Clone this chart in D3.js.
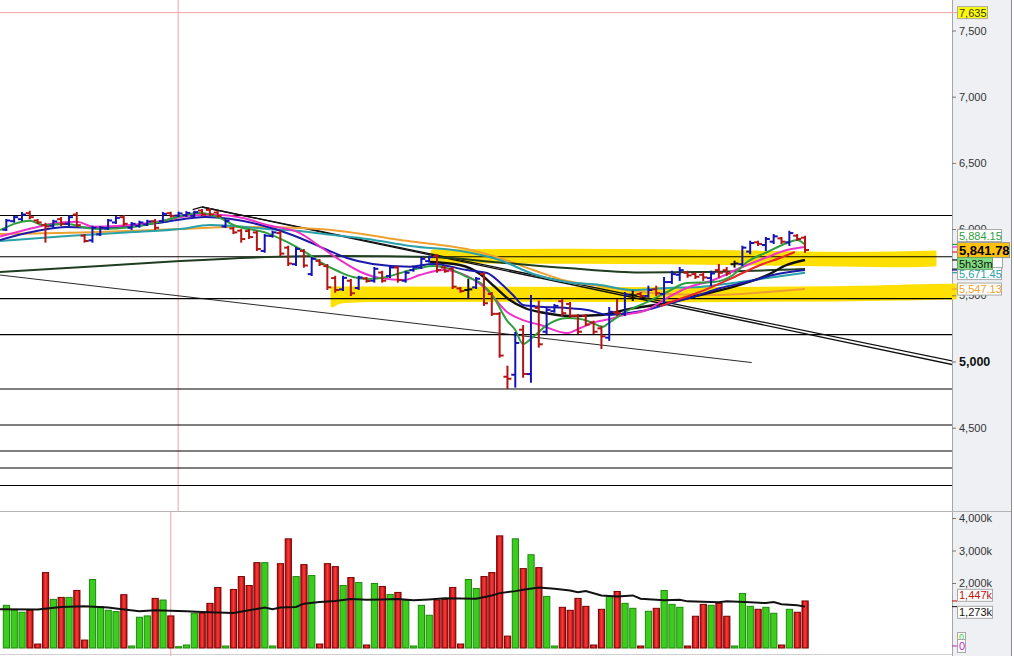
<!DOCTYPE html>
<html>
<head>
<meta charset="utf-8">
<script src="https://cdn.jsdelivr.net/npm/d3@7"></script>
<style>
  body { margin: 0; background: #fff; }
  svg { display: block; font-family: "Liberation Sans", Arial, sans-serif; }
</style>
</head>
<body>
<svg id="chart" width="1014" height="656"></svg>
<script>
// ---- data ----
// one entry per bar: [open, high, low, close]
const ohlc = [
  [5995,6069,5993,6065],[6060,6094,6056,6090],[6075,6122,6069,6110],[6120,6131,6082,6090],
  [6065,6069,6046,6050],[6030,6040,5905,6020],[6025,6063,6018,6058],[6075,6084,6031,6040],
  [6040,6099,6031,6090],[6110,6122,6023,6030],[5950,5955,5905,5910],[5915,6018,5905,6010],
  [5960,6016,5955,6010],[6005,6069,6001,6065],[6050,6091,6046,6085],[6090,6099,6031,6040],
  [6010,6046,6001,6040],[6025,6056,6018,6050],[6035,6063,6031,6058],[6060,6069,6001,6010],
  [6060,6122,6056,6115],[6120,6124,6094,6100],[6102,6124,6099,6118],[6105,6128,6099,6122],
  [6100,6131,6094,6128],[6140,6144,6106,6110],[6145,6152,6106,6112],[6125,6131,6094,6098],
  [6020,6069,6016,6062],[6005,6008,5970,5975],[5988,5993,5905,5925],[5985,5993,5933,5940],
  [5975,5980,5842,5850],[5835,5955,5829,5950],[5948,5980,5943,5975],[5970,5980,5804,5815],
  [5860,5867,5729,5740],[5735,5857,5729,5850],[5835,5842,5716,5725],[5660,5782,5653,5775],
  [5760,5767,5729,5735],[5720,5729,5548,5560],[5630,5640,5527,5540],[5545,5640,5540,5632],
  [5610,5616,5502,5515],[5555,5640,5548,5635],[5628,5631,5603,5608],[5610,5706,5603,5700],
  [5672,5678,5603,5610],[5645,5716,5638,5710],[5710,5716,5603,5615],[5610,5678,5603,5670],
  [5690,5716,5686,5712],[5710,5782,5706,5775],[5758,5792,5754,5788],[5795,5804,5678,5690],
  [5710,5716,5678,5682],[5700,5706,5555,5565],[5552,5555,5527,5532],[5540,5616,5480,5545],
  [5560,5631,5555,5625],[5660,5668,5427,5440],[5510,5517,5351,5360],[5360,5366,5036,5045],
  [4885,4961,4800,4870],[4900,5215,4810,5140],[5240,5268,4885,4906],[4905,5495,4847,5420],
  [5405,5452,5112,5130],[5225,5404,5215,5390],[5380,5427,5376,5420],[5455,5464,5351,5365],
  [5435,5442,5338,5345],[5345,5351,5215,5225],[5345,5351,5276,5280],[5295,5301,5215,5225],
  [5250,5263,5102,5190],[5180,5404,5163,5375],[5372,5464,5351,5365],[5360,5517,5351,5505],
  [5505,5527,5464,5500],[5510,5517,5487,5495],[5495,5565,5489,5540],[5545,5565,5502,5515],
  [5510,5631,5442,5600],[5600,5678,5593,5660],[5655,5706,5616,5690],[5670,5678,5640,5650],
  [5660,5668,5631,5640],[5655,5668,5616,5635],[5630,5678,5578,5665],[5690,5729,5640,5670],
  [5690,5706,5653,5665],[5735,5754,5716,5740],[5735,5867,5729,5860],[5830,5905,5817,5895],
  [5900,5905,5880,5888],[5880,5933,5842,5925],[5905,5955,5895,5945],[5930,5933,5895,5905],
  [5900,5980,5880,5970],[5950,5955,5918,5925],[5935,5943,5829,5842]
];
const neutralBars = [59, 80, 93];

// volume in thousands, and up (1) / down (0) per bar
const volume = [
  1313,1170,1100,1170,122,2320,1496,1557,1557,1771,244,2107,1273,1160,1120,1640,61,946,987,1527,
  1476,987,40,92,1069,1069,1374,1863,61,1802,2198,1924,2626,2626,61,2595,3359,2198,2565,2229,
  122,2595,2504,1924,2168,2015,92,1985,1893,1649,1710,1476,61,1313,1008,1476,1496,1863,122,2107,
  1832,2198,2320,3450,366,3359,2443,2870,2473,1588,61,1252,1160,1527,1282,92,1191,1588,1740,1374,
  1221,61,1130,1221,1771,1343,1252,61,977,1343,1313,1374,977,61,1680,1282,1191,1252,1069,92,
  1191,1100,1447
];
const volumeUp = [
  1,1,1,0,0,0,1,0,1,0,0,1,1,1,1,0,1,1,1,0,1,0,1,1,1,0,0,0,1,0,0,0,0,1,1,0,0,1,0,1,
  0,0,0,1,0,1,0,1,0,1,0,1,1,1,1,0,0,0,0,1,1,0,0,0,0,1,0,1,0,1,1,0,0,0,0,0,0,1,0,1,
  1,0,1,0,1,1,1,0,0,0,1,0,0,1,1,1,0,1,1,0,1,0,0
];
// volume moving average: [bar index, value k]
const volumeAvg = [
  [-1,1190],[4,1182],[7,1261],[10,1282],[13,1243],[14,1212],[17,1130],[19,1160],[23,1130],[25,1108],
  [29,1078],[31,1160],[33,1243],[34,1191],[35,1243],[37,1261],[38,1365],[40,1414],[42,1444],[44,1505],
  [46,1487],[48,1496],[50,1505],[52,1466],[54,1496],[56,1527],[60,1518],[62,1618],[63,1689],[65,1750],
  [66,1792],[68,1863],[70,1823],[72,1771],[73,1719],[74,1750],[76,1618],[78,1588],[80,1618],[81,1518],
  [84,1466],[86,1487],[87,1435],[91,1405],[92,1435],[95,1405],[97,1383],[98,1414],[99,1344],[101,1313],
  [102,1273]
];

// price moving averages: [bar index, price]
const maGreen = [[-0.8,5993],[3,6063],[4.7,6031],[7.8,6038],[10.3,6008],[12,6001],[16.2,6016],[19.6,6056],
  [24.7,6122],[27.3,6084],[29,6031],[33.3,5970],[35.9,5902],[38.4,5819],[40.1,5751],[42.6,5676],[44.3,5638],
  [46.1,5623],[48.6,5638],[50.3,5668],[52.8,5706],[54.5,5721],[56.7,5698],[58.8,5640],[60.9,5578],[62.2,5489],
  [63.9,5313],[65,5238],[66,5132],[67.3,5187],[69.1,5276],[71.6,5328],[73.3,5321],[74.9,5291],[76.1,5261],
  [77.1,5298],[78.8,5366],[81.8,5449],[84.4,5525],[86.9,5593],[90.3,5600],[92.8,5653],[94.6,5751],
  [97.2,5827],[99.7,5895],[101,5918],[102,5884]];
const maMagenta = [[-0.8,5943],[3.4,6008],[5.6,6038],[9,6056],[11.1,6018],[14.1,6023],[18.4,6048],
  [24.7,6106],[27.3,6106],[30.2,6084],[33.3,6031],[37.5,5970],[40.1,5867],[42.6,5767],[45.2,5678],
  [47.7,5631],[50.9,5616],[52.8,5653],[55.8,5691],[58.8,5646],[61.4,5540],[63.9,5376],[66,5313],
  [68.2,5276],[71.6,5215],[73.3,5253],[75.4,5301],[77.1,5321],[78.8,5351],[81.8,5389],[84.4,5480],
  [86.9,5555],[90.3,5616],[93.7,5706],[97.2,5789],[99.7,5842],[102,5865]];
const maBlue = [[-0.8,5918],[3.4,5980],[7.8,6016],[12,6008],[16.2,6023],[20.5,6056],[25.4,6091],
  [33.3,6018],[37.5,5933],[41,5842],[43.5,5782],[46.8,5737],[51.6,5716],[54.5,5737],[58.8,5691],
  [61.4,5668],[63.1,5593],[64.7,5502],[66,5427],[68.2,5414],[71.6,5404],[74.2,5389],[77.1,5351],
  [78.4,5359],[81.8,5389],[84.4,5434],[87.7,5487],[91.2,5555],[94.6,5600],[97.9,5653],[102,5691]];
const maTeal = [[-0.8,5910],[7.8,5948],[16.2,5978],[22.2,6001],[26,6031],[29,6023],[33.3,6001],
  [37.5,5986],[41.7,5955],[46.1,5925],[51.6,5872],[58.8,5827],[63,5767],[67.3,5661],[71.6,5600],
  [75.8,5578],[80,5540],[84.4,5555],[88.6,5563],[92.8,5593],[97.2,5631],[102,5671]];
const maOrange = [[-0.8,5963],[12,5978],[22.2,6001],[29,6016],[37.5,6008],[42.6,5986],[50.3,5918],
  [54.5,5887],[58.8,5850],[63,5782],[67.3,5691],[71.6,5608],[75.8,5570],[80,5532],[84.4,5510],
  [90.3,5502],[97.2,5525],[102,5547]];
const maDarkGreen = [[-0.8,5676],[12,5721],[22.2,5759],[33.3,5789],[42.6,5797],[54.5,5789],[63,5748],
  [71.6,5706],[80.9,5672],[88.6,5676],[102,5698]];
const maBlack = [[54.1,5751],[57.9,5729],[60.5,5661],[62.4,5563],[64.3,5464],[66.2,5404],[68.8,5366],
  [72,5344],[75.8,5351],[79.6,5397],[84.4,5442],[88.6,5502],[92.8,5563],[97.2,5653],[99.7,5729],[102,5767]];
const maRed = [[83.5,5419],[86,5472],[88.2,5517],[92.4,5623],[96.3,5729],[98.8,5782],[100.7,5827]];

// drawn objects: horizontal levels, trend lines [index, price], marker bands [index, top, bottom]
const levels = [6103, 5791, 5475, 5203, 4792, 4520, 4324, 4196, 4063];
const alertLevel = 7635;
const trendA = [[23.8,6148],[25,6167],[120.8,5004]];
const trendB = [[25,6167],[120.8,4977]];
const trendThin = [[-0.8,5653],[95.2,4992]];
const bandUpper = [[54.4,5835,5751],[73.3,5842,5751],[88.6,5835,5744],[105.2,5812,5729],[114.1,5819,5721],[118.6,5827,5729]];
const bandLower = [[41.6,5555,5419],[42.4,5555,5449],[43.9,5555,5464],[63,5555,5464],[88.6,5548,5457],
  [107.8,5555,5464],[114.1,5570,5472],[121.2,5578,5480]];
const cursorPrice = 21.95, cursorVolume = 21;

const priceTicks = [7500, 7000, 6500, 6000, 5500, 5000, 4500];
const volumeTicks = [4000, 3000, 2000];
const lastPrice = 5841.78;
const greenEnd = 5884.15, tealEnd = 5671.45, orangeEnd = 5547.13;

// ---- scales ----
const svg = d3.select("#chart");
const plotRight = 952, sep = 511;
const x = d3.scaleLinear().domain([0, 102]).range([6.3, 805]);
const yP = d3.scaleLinear().domain([7500, 4500]).range([30.5, 427.7]);
const yV = d3.scaleLinear().domain([0, 4000]).range([648, 518]);

const defs = svg.append("defs");
defs.append("clipPath").attr("id", "pclip").append("rect")
  .attr("x", 0).attr("y", 0).attr("width", plotRight).attr("height", sep);
defs.append("clipPath").attr("id", "vclip").append("rect")
  .attr("x", 0).attr("y", sep).attr("width", plotRight).attr("height", 656 - sep);
const grad = defs.append("linearGradient").attr("id", "redbar").attr("x1", 0).attr("x2", 1);
grad.append("stop").attr("offset", 0).attr("stop-color", "#a80c0c");
grad.append("stop").attr("offset", 0.5).attr("stop-color", "#ff3a3a");
grad.append("stop").attr("offset", 1).attr("stop-color", "#a80c0c");

svg.append("rect").attr("width", 1014).attr("height", 656).attr("fill", "#fff");

// axis panel background
svg.append("rect").attr("x", plotRight).attr("y", 0).attr("width", 59).attr("height", 656).attr("fill", "#eef0f3");
svg.append("line").attr("x1", plotRight + 0.5).attr("x2", plotRight + 0.5).attr("y1", 0).attr("y2", 656).attr("stroke", "#a6a6a6");
svg.append("line").attr("x1", 1011.5).attr("x2", 1011.5).attr("y1", 0).attr("y2", 656).attr("stroke", "#8c8c8c");

// marker bands (drawn under everything, not clipped)
const band = d3.area().x(d => x(d[0])).y0(d => yP(d[2])).y1(d => yP(d[1])).curve(d3.curveBasis);
[bandUpper, bandLower].forEach(b => {
  svg.append("path").datum(b).attr("d", band)
    .attr("fill", "#ffe000").attr("stroke", "#ffe000").attr("stroke-width", 3).attr("stroke-linejoin", "round");
});

const pg = svg.append("g").attr("clip-path", "url(#pclip)");

// cursor & alert line
pg.append("line").attr("x1", x(cursorPrice)).attr("x2", x(cursorPrice)).attr("y1", 0).attr("y2", sep)
  .attr("stroke", "#f2a4a4").attr("stroke-width", 1);
svg.append("line").attr("x1", 0).attr("x2", 957).attr("y1", yP(alertLevel)).attr("y2", yP(alertLevel))
  .attr("stroke", "#f2a4a4").attr("stroke-width", 1);

// horizontal levels
pg.selectAll(".lvl").data(levels).enter().append("line")
  .attr("x1", 0).attr("x2", plotRight).attr("y1", d => yP(d)).attr("y2", d => yP(d))
  .attr("stroke", "#000").attr("stroke-width", 1.1);

// trend lines
const tl = d3.line().x(d => x(d[0])).y(d => yP(d[1]));
pg.append("path").datum(trendA).attr("d", tl).attr("fill", "none").attr("stroke", "#111").attr("stroke-width", 1.3);
pg.append("path").datum(trendB).attr("d", tl).attr("fill", "none").attr("stroke", "#111").attr("stroke-width", 1.3);
pg.append("path").datum(trendThin).attr("d", tl).attr("fill", "none").attr("stroke", "#111").attr("stroke-width", 0.9);

// moving averages
const ma = d3.line().x(d => x(d[0])).y(d => yP(d[1])).curve(d3.curveMonotoneX);
const maSeries = [
  [maOrange, "#f0a030", 2], [maDarkGreen, "#1f3d1f", 2], [maTeal, "#2aa0a8", 2],
  [maBlack, "#111111", 2.4], [maBlue, "#1a1aa8", 2], [maRed, "#e8262a", 2],
  [maMagenta, "#ee30c8", 2], [maGreen, "#2e9e3e", 2]
];
maSeries.forEach(([d, c, w]) => {
  pg.append("path").datum(d).attr("d", ma).attr("fill", "none").attr("stroke", c).attr("stroke-width", w);
});

// OHLC bars
const barColor = (d, i) => neutralBars.includes(i) ? "#111" : (d[3] >= d[0] ? "#1414b4" : "#b41414");
const bars = pg.selectAll(".bar").data(ohlc).enter().append("g")
  .attr("stroke", barColor).attr("stroke-width", 2);
bars.append("line").attr("x1", (d, i) => x(i)).attr("x2", (d, i) => x(i))
  .attr("y1", d => yP(d[1]) - 1).attr("y2", d => yP(d[2]) + 1);
bars.append("line").attr("x1", (d, i) => x(i) - 4).attr("x2", (d, i) => x(i))
  .attr("y1", d => yP(d[0])).attr("y2", d => yP(d[0]));
bars.append("line").attr("x1", (d, i) => x(i)).attr("x2", (d, i) => x(i) + 4)
  .attr("y1", d => yP(d[3])).attr("y2", d => yP(d[3]));

// panel separators
svg.append("line").attr("x1", 0).attr("x2", 1011).attr("y1", sep + 0.5).attr("y2", sep + 0.5).attr("stroke", "#b4b4b4");
svg.append("line").attr("x1", 0).attr("x2", plotRight).attr("y1", 654.5).attr("y2", 654.5).attr("stroke", "#d0d0d0");

// volume panel
const vg = svg.append("g").attr("clip-path", "url(#vclip)");
vg.append("line").attr("x1", x(cursorVolume)).attr("x2", x(cursorVolume)).attr("y1", sep).attr("y2", 656)
  .attr("stroke", "#f2a4a4").attr("stroke-width", 1);
vg.selectAll(".vol").data(volume).enter().append("rect")
  .attr("x", (d, i) => x(i) - 3).attr("width", 6.2)
  .attr("y", d => yV(d)).attr("height", d => yV(0) - yV(d))
  .attr("fill", (d, i) => volumeUp[i] ? "#3ccc1e" : "url(#redbar)")
  .attr("stroke", (d, i) => volumeUp[i] ? "#1c8a0c" : "#7a0000").attr("stroke-width", 1);
vg.append("path").datum(volumeAvg)
  .attr("d", d3.line().x(d => x(d[0])).y(d => yV(d[1])))
  .attr("fill", "none").attr("stroke", "#111").attr("stroke-width", 2);

// axes
const fmt = d3.format(",");
const pAxis = svg.append("g").attr("transform", `translate(${plotRight},0)`)
  .call(d3.axisRight(yP).tickValues(priceTicks).tickFormat(fmt).tickSize(4).tickPadding(3));
const vAxis = svg.append("g").attr("transform", `translate(${plotRight},0)`)
  .call(d3.axisRight(yV).tickValues(volumeTicks).tickFormat(d => fmt(d) + "k").tickSize(4).tickPadding(3));
[pAxis, vAxis].forEach(a => {
  a.select(".domain").remove();
  a.selectAll("line").attr("stroke", "#777");
  a.selectAll("text").attr("fill", "#333").style("font-size", "11px").style("font-family", "'Liberation Sans', Arial, sans-serif");
});
pAxis.selectAll(".tick").filter(d => d === 5000).select("text")
  .style("font-weight", "bold").style("font-size", "12.5px").attr("fill", "#111");

// colored end ticks on the price axis
maSeries.forEach(([d, c]) => {
  const v = d[d.length - 1][1];
  svg.append("line").attr("x1", plotRight).attr("x2", plotRight + 5)
    .attr("y1", yP(v)).attr("y2", yP(v)).attr("stroke", c).attr("stroke-width", 1.2);
});

// value boxes
function box(yc, text, o) {
  const h = o.h || 13;
  svg.append("rect").attr("x", 957.5).attr("y", yc - h / 2).attr("width", o.w).attr("height", h)
    .attr("fill", o.fill || "#fff").attr("stroke", o.stroke || "#a8a8a8");
  if (!text) return;
  svg.append("text").attr("x", 959).attr("y", yc + (o.dy || 4)).text(text)
    .attr("fill", o.color || "#333").style("font-size", (o.size || 11) + "px")
    .style("font-weight", o.bold ? "bold" : "normal");
}
const fmt2 = d3.format(",.2f");
const lastY = yP(lastPrice);
box(yP(alertLevel), fmt(alertLevel), { w: 30, h: 12, fill: "#ffff00" });
box(Math.min(yP(greenEnd), lastY - 14.5), fmt2(greenEnd), { w: 44, h: 12, color: "#2e9e3e" });
box(lastY + 12, "", { w: 45, h: 12 });   // blue MA label, covered by the countdown
box(lastY, fmt2(lastPrice), { w: 52, h: 15, fill: "#ffc10e", stroke: "#9a9a9a", color: "#000", size: 13, bold: true, dy: 5 });
box(yP(tealEnd) + 1, fmt2(tealEnd), { w: 44, h: 12, color: "#2aa0a8" });
box(lastY + 13.5, "5h33m", { w: 35, h: 12, fill: "#7fdc7f", stroke: "#6aa86a", color: "#111" });
box(yP(orangeEnd), fmt2(orangeEnd), { w: 44, h: 12, color: "#f0a030" });

// volume value boxes, pushed apart when they overlap
const vLast = volume[volume.length - 1], vAvg = volumeAvg[volumeAvg.length - 1][1];
let y1 = yV(vLast), y2 = yV(vAvg);
const mid = (y1 + y2) / 2, gap = 15;
if (y2 - y1 < gap) { y1 = mid - gap / 2 - 1; y2 = mid + gap / 2 + 1; }
svg.append("line").attr("x1", plotRight).attr("x2", plotRight + 5).attr("y1", yV(vLast)).attr("y2", yV(vLast)).attr("stroke", "#c00");
svg.append("line").attr("x1", plotRight).attr("x2", plotRight + 5).attr("y1", yV(vAvg)).attr("y2", yV(vAvg)).attr("stroke", "#111");
box(y1, fmt(vLast) + "k", { w: 35, h: 12, color: "#c01010" });
box(y2, fmt(vAvg) + "k", { w: 35, h: 12, color: "#111" });
box(yV(0) - 11, "0", { w: 8, h: 9, color: "#3ccc1e", size: 9, dy: 3 });
box(yV(0) - 2, "0", { w: 8, h: 13, color: "#d020c0" });
svg.append("line").attr("x1", plotRight).attr("x2", plotRight + 5).attr("y1", yV(0) - 2).attr("y2", yV(0) - 2).attr("stroke", "#d020c0");
</script>
</body>
</html>
